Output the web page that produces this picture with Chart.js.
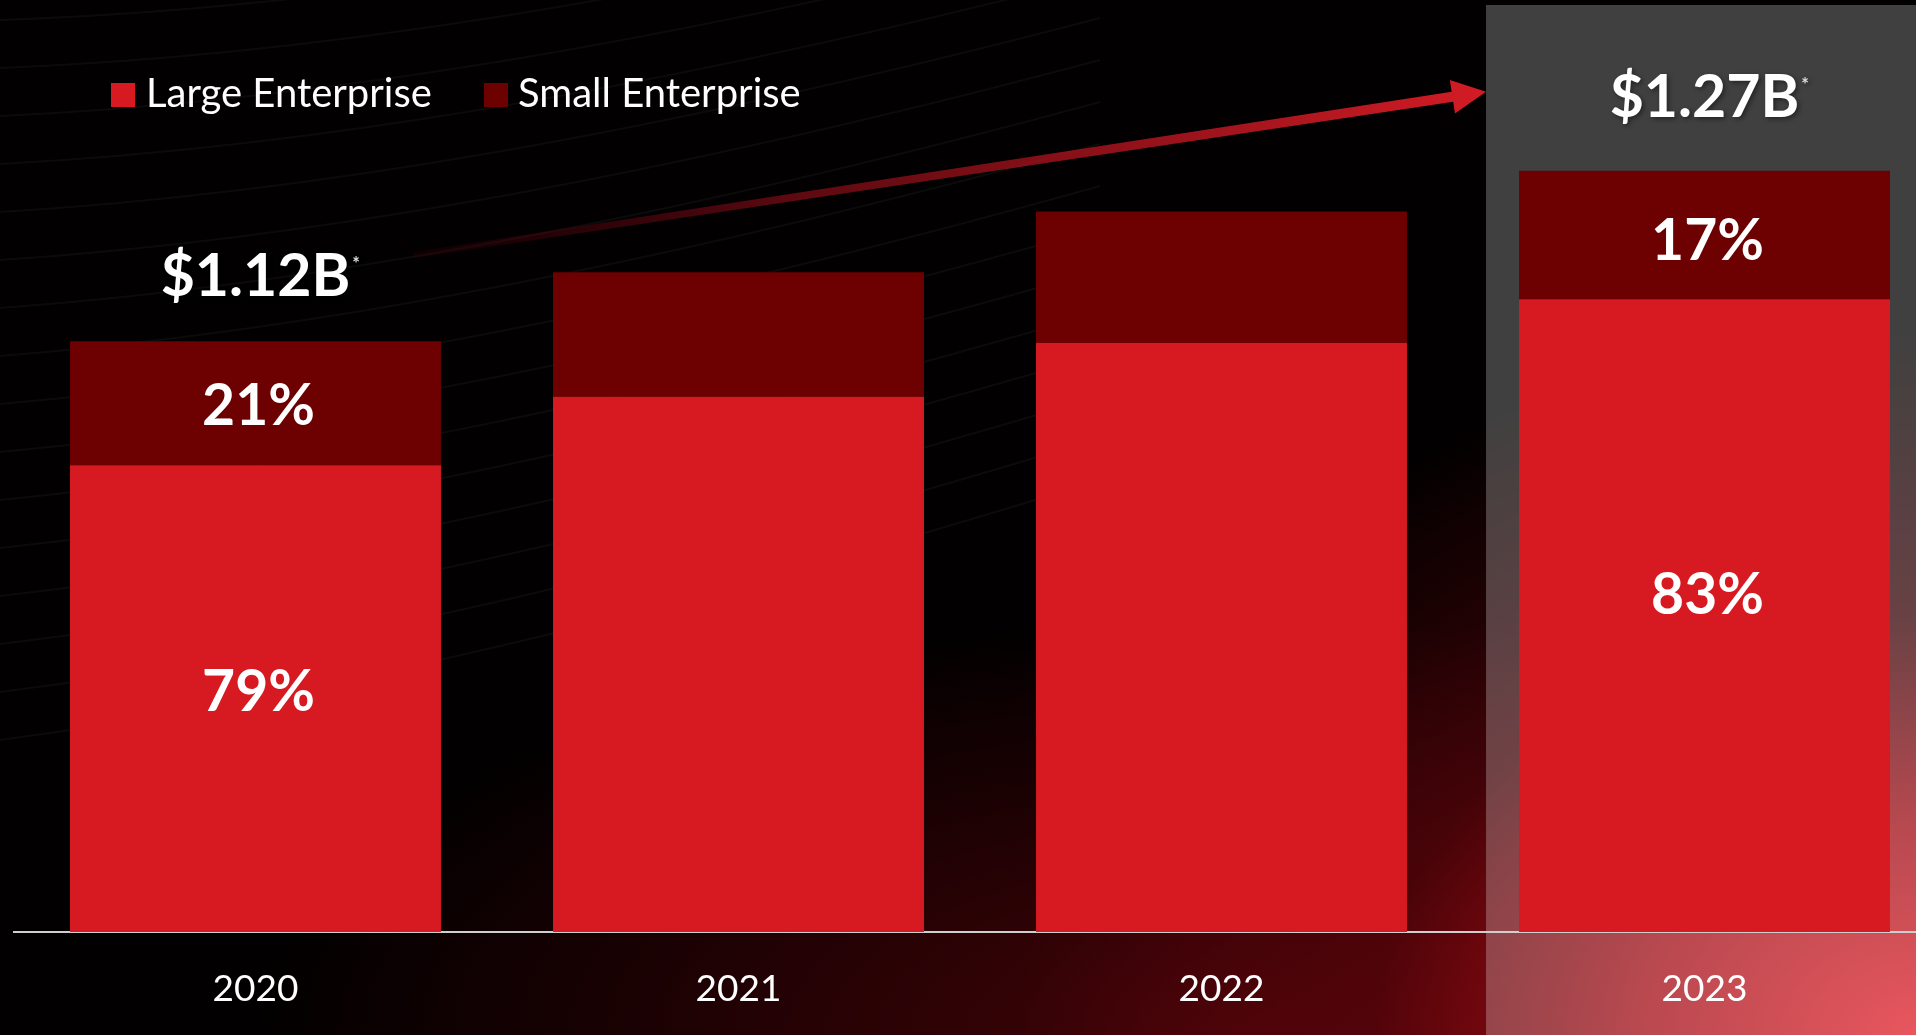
<!DOCTYPE html>
<html>
<head>
<meta charset="utf-8">
<script src="https://cdn.jsdelivr.net/npm/chart.js@4.4.0/dist/chart.umd.min.js"></script>
<style>
  html, body {
    margin: 0;
    width: 1916px;
    height: 1035px;
    overflow: hidden;
  }
  body {
    position: relative;
    font-family: Lato, "Open Sans", sans-serif;
    background:
      radial-gradient(ellipse 900px 700px at 1916px 1035px, rgba(225,30,40,1) 0%, rgba(185,14,24,0.85) 30%, rgba(105,5,12,0.5) 60%, rgba(0,0,0,0) 100%),
      radial-gradient(ellipse 1000px 420px at 1250px 1035px, rgba(120,6,14,0.55) 0%, rgba(0,0,0,0) 100%),
      #020000;
  }
  #chart {
    position: absolute;
    left: 0;
    top: 0;
  }
  .legend-box {
    position: absolute;
    top: 83px;
    width: 24px;
    height: 24px;
  }
  .legend-text {
    position: absolute;
    top: 72px;
    font-size: 40px;
    line-height: 40px;
    color: #ffffff;
    white-space: nowrap;
  }
</style>
</head>
<body>
<canvas id="chart" width="1946" height="1035"></canvas>
<div class="legend-box" style="left:111px;background:#d71a21"></div>
<div class="legend-text" style="left:146px">Large Enterprise</div>
<div class="legend-box" style="left:484px;background:#6d0000"></div>
<div class="legend-text" style="left:518px">Small Enterprise</div>

<script>
// bar heights, indexed so that 2020 total = 100
const years = ["2020", "2021", "2022", "2023"];
const largeIndex = [79.0, 90.6, 99.7, 107.1];
const smallIndex = [21.0, 21.1, 22.3, 21.8];
const largePct = ["79%", "", "", "83%"];
const smallPct = ["21%", "", "", "17%"];
const totalLabels = ["$1.12B", "", "", "$1.27B"];
const highlightYear = "2023";

const LARGE_COLOR = "#d71a21";
const SMALL_COLOR = "#6d0000";

// faint swoosh lines + highlight panel behind the bars
const backdrop = {
  id: "backdrop",
  beforeDraw(chart) {
    const { ctx } = chart;
    ctx.save();
    ctx.strokeStyle = "rgba(255,255,255,0.045)";
    ctx.lineWidth = 2;
    for (let k = 0; k < 16; k++) {
      const y0 = 20 + k * 48;
      ctx.beginPath();
      ctx.moveTo(0, y0);
      ctx.bezierCurveTo(300, y0 - 10 - k * 2, 650, y0 - 60 - k * 4, 1100, y0 - 170 - k * 6);
      ctx.stroke();
    }

    const idx = years.indexOf(highlightYear);
    const bar = chart.getDatasetMeta(0).data[idx];
    if (bar) {
      const left = bar.x - bar.width / 2 - 33;
      ctx.fillStyle = "rgba(255,255,255,0.25)";
      ctx.fillRect(left, 5, chart.width - left, chart.height - 5);
    }
    ctx.restore();
  }
};

// percentages, totals and growth arrow
const annotations = {
  id: "annotations",
  afterDatasetsDraw(chart) {
    const { ctx } = chart;
    const metaL = chart.getDatasetMeta(0);
    const metaS = chart.getDatasetMeta(1);
    const hi = years.indexOf(highlightYear);

    ctx.save();
    ctx.fillStyle = "#ffffff";
    ctx.textAlign = "center";
    ctx.textBaseline = "middle";
    ctx.font = "bold 57px Lato";
    years.forEach((y, i) => {
      const bl = metaL.data[i];
      const bs = metaS.data[i];
      const lift = i === hi ? 20 : 6;
      const drop = i === hi ? 7 : 3;
      if (largePct[i]) ctx.fillText(largePct[i], bl.x + 3, (bl.y + bl.base) / 2 - lift);
      if (smallPct[i]) ctx.fillText(smallPct[i], bs.x + 3, (bs.y + bs.base) / 2 + drop);
    });

    ctx.shadowColor = "rgba(0,0,0,0.45)";
    ctx.shadowBlur = 5;
    ctx.shadowOffsetX = 2;
    ctx.shadowOffsetY = 2;
    ctx.textBaseline = "alphabetic";
    years.forEach((y, i) => {
      if (!totalLabels[i]) return;
      const bs = metaS.data[i];
      // the highlighted total sits centred in the panel above its bar
      const baseY = i === hi ? (5 + bs.y) / 2 + 29 : bs.y - 45;
      ctx.font = "bold 59px Lato";
      ctx.textAlign = "center";
      ctx.fillText(totalLabels[i], bs.x, baseY);
      const w = ctx.measureText(totalLabels[i]).width;
      ctx.font = "bold 18px Lato";
      ctx.textAlign = "left";
      ctx.fillStyle = "#dddddd";
      ctx.fillText("*", bs.x + w / 2 + 2, baseY - 26);
      ctx.fillStyle = "#ffffff";
    });
    ctx.shadowColor = "transparent";

    // arrow from the first total to the highlight panel
    const first = metaS.data[0];
    const last = metaS.data[years.length - 1];
    const sx = first.x + first.width / 2 - 28;
    const sy = first.y - 86;
    const tx = last.x - last.width / 2 - 33;
    const ty = last.y - 79;
    const len = Math.hypot(tx - sx, ty - sy);
    const dx = (tx - sx) / len, dy = (ty - sy) / len;
    const nx = -dy, ny = dx;
    const headLen = 34, headHalf = 17;
    const hx = tx - dx * headLen, hy = ty - dy * headLen;
    const grad = ctx.createLinearGradient(sx, sy, tx, ty);
    grad.addColorStop(0, "rgba(60,0,10,0.25)");
    grad.addColorStop(0.35, "rgba(125,12,22,0.75)");
    grad.addColorStop(1, "#d41c25");
    ctx.fillStyle = grad;
    ctx.beginPath();
    ctx.moveTo(sx + nx * 3, sy + ny * 3);
    ctx.lineTo(hx + nx * 5, hy + ny * 5);
    ctx.lineTo(hx + nx * headHalf, hy + ny * headHalf);
    ctx.lineTo(tx, ty);
    ctx.lineTo(hx - nx * headHalf, hy - ny * headHalf);
    ctx.lineTo(hx - nx * 5, hy - ny * 5);
    ctx.lineTo(sx - nx * 3, sy - ny * 3);
    ctx.closePath();
    ctx.fill();
    ctx.restore();
  }
};

const ctx = document.getElementById("chart").getContext("2d");
new Chart(ctx, {
  type: "bar",
  data: {
    labels: years,
    datasets: [
      {
        label: "Large Enterprise",
        data: largeIndex,
        backgroundColor: LARGE_COLOR,
        barPercentage: 0.768,
        categoryPercentage: 1.0
      },
      {
        label: "Small Enterprise",
        data: smallIndex,
        backgroundColor: SMALL_COLOR,
        barPercentage: 0.768,
        categoryPercentage: 1.0
      }
    ]
  },
  options: {
    responsive: false,
    animation: false,
    layout: { padding: { top: 46, left: 14, right: 0, bottom: 0 } },
    plugins: {
      legend: { display: false },
      tooltip: { enabled: false }
    },
    scales: {
      x: {
        stacked: true,
        z: 1,
        grid: { display: false, drawTicks: false },
        border: { display: true, color: "#cfcfcf", width: 2 },
        ticks: {
          color: "#ffffff",
          padding: 35,
          font: { family: "Lato", size: 37 }
        },
        afterFit(scale) { scale.height = 103; }
      },
      y: {
        stacked: true,
        display: false,
        min: 0,
        max: 150
      }
    }
  },
  plugins: [backdrop, annotations]
});
</script>
</body>
</html>
